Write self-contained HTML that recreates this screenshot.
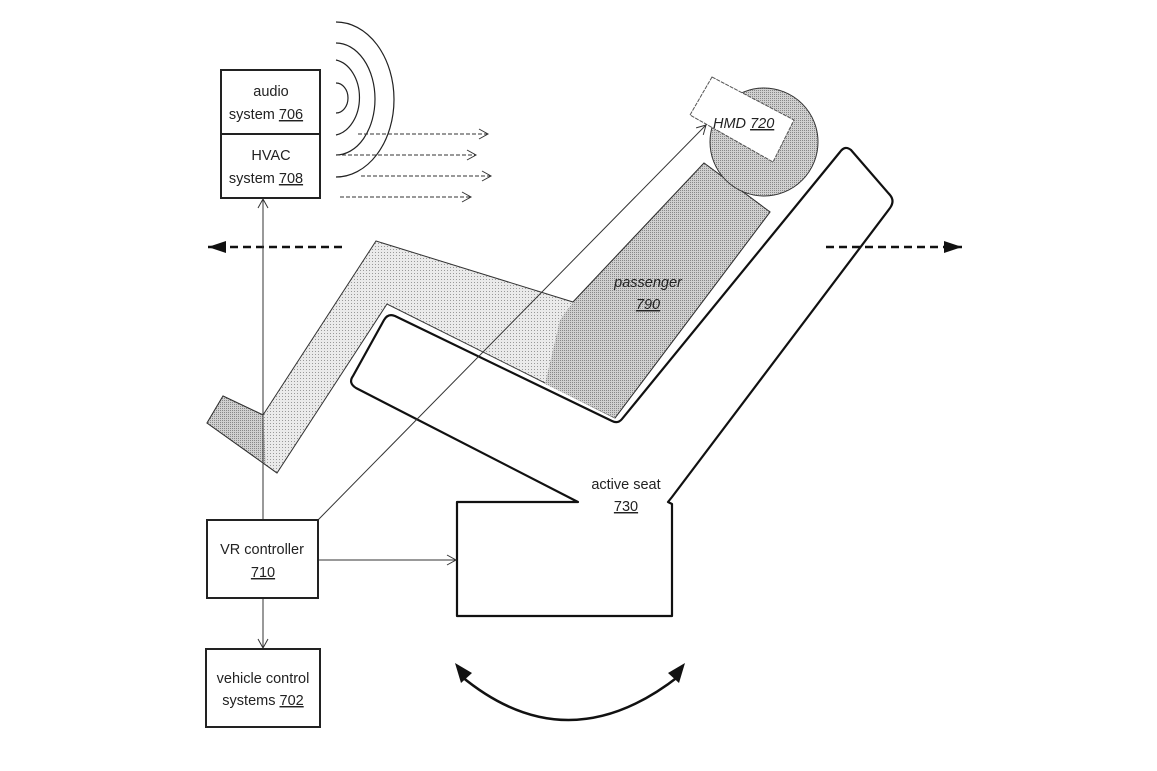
<!DOCTYPE html>
<html><head><meta charset="utf-8"><style>
html,body{margin:0;padding:0;background:#fff;}
svg{display:block;}
text{font-family:"Liberation Sans",Arial,sans-serif;font-size:14.5px;fill:#222;}
</style></head><body>
<svg width="1157" height="771" viewBox="0 0 1157 771" xmlns="http://www.w3.org/2000/svg">
<defs>
<pattern id="lt" width="3" height="3" patternUnits="userSpaceOnUse"><rect width="3" height="3" fill="#eaeaea"/><rect width="1" height="1" fill="#999"/></pattern>
<pattern id="dk" width="2" height="2" patternUnits="userSpaceOnUse"><rect width="2" height="2" fill="#d0d0d0"/><rect width="1" height="1" fill="#888"/></pattern>
<marker id="open" markerWidth="12" markerHeight="12" refX="10" refY="6" orient="auto" markerUnits="userSpaceOnUse"><path d="M1,1 L10,6 L1,11" fill="none" stroke="#333" stroke-width="1"/></marker>
<marker id="fill" markerWidth="20" markerHeight="14" refX="18" refY="7" orient="auto" markerUnits="userSpaceOnUse"><path d="M0,1 L18,7 L0,13 Z" fill="#111"/></marker>
</defs>

<!-- passenger legs -->
<polygon points="223,396 263,415 376,241 573,302 704,163 770,212 615,418 387,304 277,473 207,423" fill="url(#lt)" stroke="#333" stroke-width="1"/>
<!-- torso darker -->
<polygon points="704,163 770,212 615,418 545,384 560,320 573,302" fill="url(#dk)" stroke="none"/>
<polyline points="573,302 704,163 770,212 615,418" fill="none" stroke="#333" stroke-width="1"/>
<!-- foot darker -->
<polygon points="223,396 263,415 266,464 207,423" fill="url(#dk)"/>
<polyline points="263,415 223,396 207,423 277,473" fill="none" stroke="#333" stroke-width="1"/>
<!-- head -->
<circle cx="764" cy="142" r="54" fill="url(#dk)" stroke="#333" stroke-width="1"/>
<!-- HMD -->
<polygon points="712,77 794,120 773,162 690,115" fill="#fff" stroke="#555" stroke-width="1" stroke-dasharray="4,1"/>
<text x="713" y="128" font-style="italic">HMD <tspan text-decoration="underline">720</tspan></text>

<!-- seat outline -->
<path d="M395,316 L612,421 Q618,424 622,419 L840,152 Q845,145 851,150 L890,195 Q895,201 890,208 L672,497 L668,502 L672,504 L672,616 L457,616 L457,502 L578,502 L356,388 Q348,383 353,376 L384,320 Q388,313 395,316 Z" fill="none" stroke="#111" stroke-width="2.2" stroke-linejoin="round"/>

<text x="626" y="489" text-anchor="middle">active seat</text>
<text x="626" y="511" text-anchor="middle" text-decoration="underline">730</text>
<text x="648" y="287" text-anchor="middle" font-style="italic">passenger</text>
<text x="648" y="309" text-anchor="middle" font-style="italic" text-decoration="underline">790</text>

<!-- audio/HVAC box -->
<rect x="221" y="70" width="99" height="128" fill="#fff" stroke="#222" stroke-width="2"/>
<line x1="221" y1="134" x2="320" y2="134" stroke="#222" stroke-width="2"/>
<text x="271" y="96" text-anchor="middle">audio</text>
<text x="266" y="119" text-anchor="middle">system <tspan text-decoration="underline">706</tspan></text>
<text x="271" y="160" text-anchor="middle">HVAC</text>
<text x="266" y="183" text-anchor="middle">system <tspan text-decoration="underline">708</tspan></text>

<!-- sound waves -->
<g fill="none" stroke="#222" stroke-width="1.2">
<path d="M336,22 A58,77.5 0 0 1 336,177"/>
<path d="M336,43 A39,56 0 0 1 336,155"/>
<path d="M336,60 A28,38 0 0 1 336,135"/>
<path d="M336,83 A12,15 0 0 1 336,113"/>
</g>
<g stroke="#333" stroke-width="1" stroke-dasharray="4,2" fill="none">
<line x1="358" y1="134" x2="488" y2="134" marker-end="url(#open)"/>
<line x1="336" y1="155" x2="476" y2="155" marker-end="url(#open)"/>
<line x1="361" y1="176" x2="491" y2="176" marker-end="url(#open)"/>
<line x1="340" y1="197" x2="471" y2="197" marker-end="url(#open)"/>
</g>

<!-- big dashed arrows -->
<line x1="342" y1="247" x2="208" y2="247" stroke="#111" stroke-width="2.5" stroke-dasharray="8,5" marker-end="url(#fill)"/>
<line x1="826" y1="247" x2="962" y2="247" stroke="#111" stroke-width="2.5" stroke-dasharray="8,5" marker-end="url(#fill)"/>

<!-- connectors -->
<g stroke="#333" stroke-width="1" fill="none">
<line x1="263" y1="520" x2="263" y2="199" marker-end="url(#open)"/>
<line x1="263" y1="598" x2="263" y2="648" marker-end="url(#open)"/>
<line x1="318" y1="560" x2="456" y2="560" marker-end="url(#open)"/>
<line x1="318" y1="520" x2="706" y2="125" marker-end="url(#open)"/>
</g>

<!-- VR controller -->
<rect x="207" y="520" width="111" height="78" fill="#fff" stroke="#222" stroke-width="2"/>
<text x="262" y="554" text-anchor="middle">VR controller</text>
<text x="263" y="577" text-anchor="middle" text-decoration="underline">710</text>

<!-- vehicle control -->
<rect x="206" y="649" width="114" height="78" fill="#fff" stroke="#222" stroke-width="2"/>
<text x="263" y="683" text-anchor="middle">vehicle control</text>
<text x="263" y="705" text-anchor="middle">systems <tspan text-decoration="underline">702</tspan></text>

<!-- rotation arrow -->
<path d="M461,676 Q567,764 679,676" fill="none" stroke="#111" stroke-width="2.5"/>
<path d="M455,663 L472,673 L461,683 Z" fill="#111"/>
<path d="M685,663 L668,673 L679,683 Z" fill="#111"/>
</svg>
</body></html>
